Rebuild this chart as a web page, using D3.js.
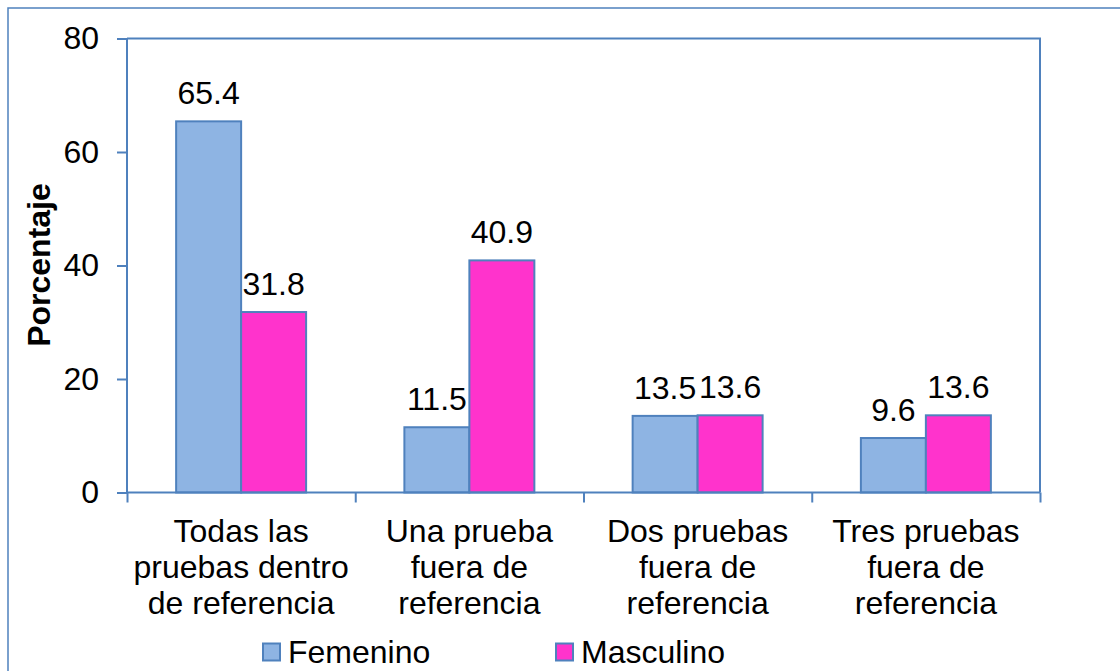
<!DOCTYPE html>
<html><head><meta charset="utf-8">
<script src="https://cdn.jsdelivr.net/npm/d3@7"></script>
<style>html,body{margin:0;padding:0;background:#fff;}svg{display:block;}</style>
</head><body>
<svg id="chart" width="1120" height="671"></svg>
<script>
const categories = [
  ["Todas las", "pruebas dentro", "de referencia"],
  ["Una prueba", "fuera de", "referencia"],
  ["Dos pruebas", "fuera de", "referencia"],
  ["Tres pruebas", "fuera de", "referencia"]
];
const seriesNames = ["Femenino", "Masculino"];
const femenino = [65.4, 11.5, 13.5, 9.6];
const masculino = [31.8, 40.9, 13.6, 13.6];
const yTicks = [0, 20, 40, 60, 80];
const yTitle = "Porcentaje";

const colors = {Femenino: "#8EB4E3", Masculino: "#FF33CC"};
const axisColor = "#4F81BD";
const font = "'Liberation Sans', Arial, sans-serif";
const fs = 32;

const svg = d3.select("#chart");
const W = 1120, H = 671;
const m = {left: 127, right: 1040, top: 38.5, bottom: 492.5};

// outer chart border (only top/left visible)
svg.append("rect").attr("x", 8).attr("y", 8).attr("width", W + 20).attr("height", H + 20)
  .attr("fill", "#fff").attr("stroke", axisColor).attr("stroke-width", 1.5);

const catIdx = categories.map((c, i) => i);
const x0 = d3.scaleBand().domain(catIdx).range([m.left, m.right]).padding(0);
const x1 = d3.scaleBand().domain(seriesNames).range([0, x0.bandwidth()]).paddingInner(0).paddingOuter(0.756);
const y = d3.scaleLinear().domain([0, 80]).range([m.bottom, m.top]);

const data = catIdx.map(i => ({i, values: [
  {s: "Femenino", v: femenino[i]}, {s: "Masculino", v: masculino[i]}
]}));

// plot area frame (top and right)
svg.append("path")
  .attr("d", `M${m.left},${m.top}H${m.right}V${m.bottom}`)
  .attr("fill", "none").attr("stroke", axisColor).attr("stroke-width", 2);

// bars
const g = svg.append("g");
const groups = g.selectAll("g.cat").data(data).join("g")
  .attr("transform", d => `translate(${x0(d.i)},0)`);
groups.selectAll("rect").data(d => d.values).join("rect")
  .attr("x", d => x1(d.s)).attr("y", d => y(d.v))
  .attr("width", x1.bandwidth()).attr("height", d => y(0) - y(d.v))
  .attr("fill", d => colors[d.s]).attr("stroke", axisColor).attr("stroke-width", 2);
groups.selectAll("text.lbl").data(d => d.values).join("text")
  .attr("class", "lbl")
  .attr("x", d => x1(d.s) + x1.bandwidth() / 2).attr("y", d => y(d.v) - 17)
  .attr("text-anchor", "middle").attr("font-family", font).attr("font-size", fs)
  .attr("fill", "#000").text(d => d.v.toFixed(1));

// y axis
const yAxis = d3.axisLeft(y).tickValues(yTicks).tickSize(10).tickPadding(18).tickFormat(d3.format("d"));
const ya = svg.append("g").attr("transform", `translate(${m.left},0)`).call(yAxis);
ya.select(".domain").attr("stroke", axisColor).attr("stroke-width", 2).attr("d", `M0,${m.top}V${m.bottom}`);
ya.selectAll(".tick line").attr("stroke", axisColor).attr("stroke-width", 2);
ya.selectAll(".tick text").attr("font-family", font).attr("font-size", fs).attr("fill", "#000");

// x axis
const xs = d3.scaleLinear().domain([0, categories.length]).range([m.left, m.right]);
const xAxis = d3.axisBottom(xs).tickValues(d3.range(categories.length + 1)).tickSize(10).tickFormat("");
const xa = svg.append("g").attr("transform", `translate(0,${m.bottom})`).call(xAxis);
xa.select(".domain").attr("stroke", axisColor).attr("stroke-width", 2).attr("d", `M${m.left},0H${m.right}`);
xa.selectAll(".tick line").attr("stroke", axisColor).attr("stroke-width", 2);

// category labels
const cl = svg.append("g");
categories.forEach((lines, i) => {
  const t = cl.append("text").attr("text-anchor", "middle").attr("font-family", font)
    .attr("font-size", fs).attr("fill", "#000");
  lines.forEach((ln, k) => {
    t.append("tspan").attr("x", x0(i) + x0.bandwidth() / 2).attr("y", 542 + k * 35.8).text(ln);
  });
});

// y title
svg.append("text").attr("transform", "translate(50,265) rotate(-90)")
  .attr("text-anchor", "middle").attr("font-family", font).attr("font-size", fs)
  .attr("font-weight", "bold").attr("fill", "#000").text(yTitle);

// legend
const legX = [263, 556];
const lg = svg.append("g");
seriesNames.forEach((s, i) => {
  lg.append("rect").attr("x", legX[i]).attr("y", 643.5).attr("width", 17).attr("height", 17)
    .attr("fill", colors[s]).attr("stroke", axisColor).attr("stroke-width", 2);
  lg.append("text").attr("x", legX[i] + 25).attr("y", 663).attr("font-family", font)
    .attr("font-size", fs).attr("fill", "#000").text(s);
});
</script>
</body></html>
